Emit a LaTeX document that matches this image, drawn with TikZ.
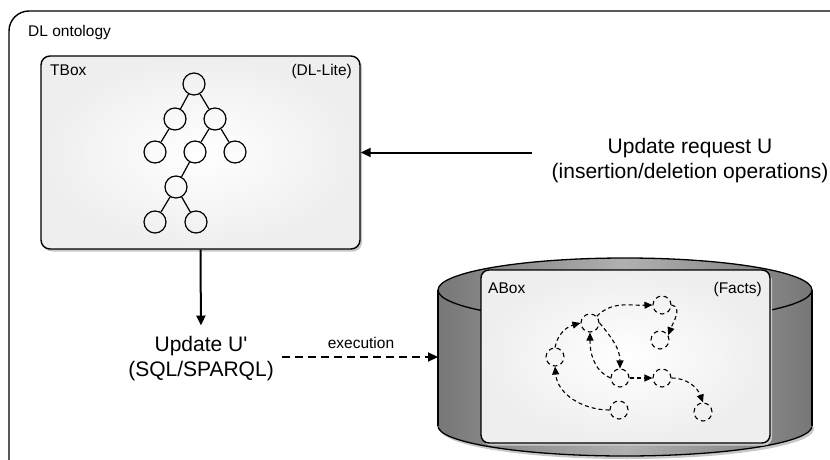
\documentclass[tikz,border=0pt]{standalone}
\usepackage{fontspec}
\setmainfont{Liberation Sans}
\usetikzlibrary{arrows.meta}
\definecolor{cylD}{HTML}{777777}
\definecolor{cylL}{HTML}{B0B0B0}
\definecolor{boxO}{HTML}{EEEEEE}
\definecolor{shad}{HTML}{C8C8C8}
\begin{document}
\begin{tikzpicture}[x=1pt,y=1pt,
  small/.style={font=\fontsize{15.5}{18}\selectfont, inner sep=0pt},
  big/.style={font=\fontsize{21}{25}\selectfont, align=center, inner sep=0pt},
  boxframe/.style={draw=black, line width=1.4pt, rounded corners=9pt, inner sep=0pt,
    shading=radial, inner color=white, outer color=boxO},
  shadowbox/.style={fill=shad, rounded corners=9pt, inner sep=0pt},
  tnode/.style={circle, draw, line width=1.2pt, minimum size=22pt, inner sep=0pt},
  anode/.style={circle, draw, line width=1.1pt, dash pattern=on 4.5pt off 3.5pt, minimum size=18pt, inner sep=0pt},
  tedge/.style={line width=1.2pt},
  aedge/.style={line width=1.1pt, dash pattern=on 4pt off 3pt, -{Triangle[length=8pt,width=7pt]}},
  bigarrow/.style={line width=2pt, -{Triangle[length=10pt,width=9pt]}},
  cylfill/.style={left color=cylD, right color=cylD, middle color=cylL},
]
\useasboundingbox (0,0) rectangle (830,-460);
% outer frame
\begin{scope}
\clip (0,0) rectangle (830,-460);
\draw[line width=1.4pt, rounded corners=20pt] (9,-11) rectangle (850,-480);
\end{scope}
\node[small, anchor=base west] (dlonto) at (28,-37) {DL ontology};

% TBox
\node[shadowbox, minimum width=319pt, minimum height=193pt] (tboxshadow) at (202.5,-155) {};
\node[boxframe, minimum width=319pt, minimum height=193pt] (tbox) at (200.5,-152.5) {};
\node[small, anchor=base west] (tboxlbl) at (50,-76) {TBox};
\node[small, anchor=base east] (dllite) at (352,-76) {(DL-Lite)};
\node[tnode] (t1) at (194,-84) {};
\node[tnode] (t2) at (175,-119) {};
\node[tnode] (t3) at (215,-119) {};
\node[tnode] (t4) at (155,-152) {};
\node[tnode] (t5) at (195,-152) {};
\node[tnode] (t6) at (235,-152) {};
\node[tnode] (t7) at (176,-187) {};
\node[tnode] (t8) at (155,-222) {};
\node[tnode] (t9) at (196,-222) {};
\draw[tedge] (t1) -- (t2);
\draw[tedge] (t1) -- (t3);
\draw[tedge] (t2) -- (t4);
\draw[tedge] (t3) -- (t5);
\draw[tedge] (t3) -- (t6);
\draw[tedge] (t5) -- (t7);
\draw[tedge] (t7) -- (t8);
\draw[tedge] (t7) -- (t9);

% update request
\node[big] (upd) at (690,-161) {Update request U\\(insertion/deletion operations)};
\coordinate (ustart) at (532,-152.5);
\draw[bigarrow] (ustart) -- (tbox.east);

% update U'
\node[big] (updp) at (201,-359) {Update U\textquotesingle\\(SQL/SPARQL)};
\draw[bigarrow, shorten >=11pt] (tbox.south) -- (updp.north);

% cylinder
\fill[shad] (627,-429) ellipse [x radius=187, y radius=30];
\path[cylfill, draw=black, line width=1.3pt] (625,-426) ellipse [x radius=187, y radius=30];
\path[cylfill] (438,-290) rectangle (812,-426);
\draw[line width=1.3pt] (438,-290) -- (438,-426);
\draw[line width=1.3pt] (812,-290) -- (812,-426);
\path[cylfill, draw=black, line width=1.3pt] (625,-290) ellipse [x radius=187, y radius=32];
\coordinate (dbleft) at (438,-357);

% execution
\coordinate (estart) at (282,-357);
\draw[line width=2.2pt, dash pattern=on 8pt off 5pt, -{Triangle[length=10pt,width=9pt]}] (estart) -- (dbleft);
\node[small] (exe) at (361,-343) {execution};

% ABox
\node[shadowbox, rounded corners=8pt, minimum width=289pt, minimum height=173pt] (aboxshadow) at (627.5,-359) {};
\node[boxframe, rounded corners=8pt, minimum width=289pt, minimum height=173pt] (abox) at (625.5,-356.5) {};
\node[small, anchor=base west] (aboxlbl) at (488,-293) {ABox};
\node[small, anchor=base east] (facts) at (762,-293) {(Facts)};
\node[anode] (A) at (662,-305) {};
\node[anode] (B) at (660,-340) {};
\node[anode] (C) at (590,-323) {};
\node[anode] (D) at (555,-357) {};
\node[anode] (E) at (620,-378) {};
\node[anode] (F) at (662,-378) {};
\node[anode] (G) at (619,-410) {};
\node[anode] (H) at (703,-412) {};
\draw[aedge] (G.west) to[out=180,in=-85] (D.south);
\draw[aedge] (D.north) to[out=80,in=195] (C.west);
\draw[aedge] (C.45) to[out=45,in=182] (A.west);
\draw[aedge] (A.east) to[out=-10,in=70] (B.30);
\draw[aedge] (C.east) to[out=-50,in=90] (E.north);
\draw[aedge] (E.west) to[out=155,in=-90] (C.south);
\draw[aedge] (E.east) -- (F.west);
\draw[aedge] (F.east) to[out=0,in=110] (H.north);
\end{tikzpicture}
\end{document}
